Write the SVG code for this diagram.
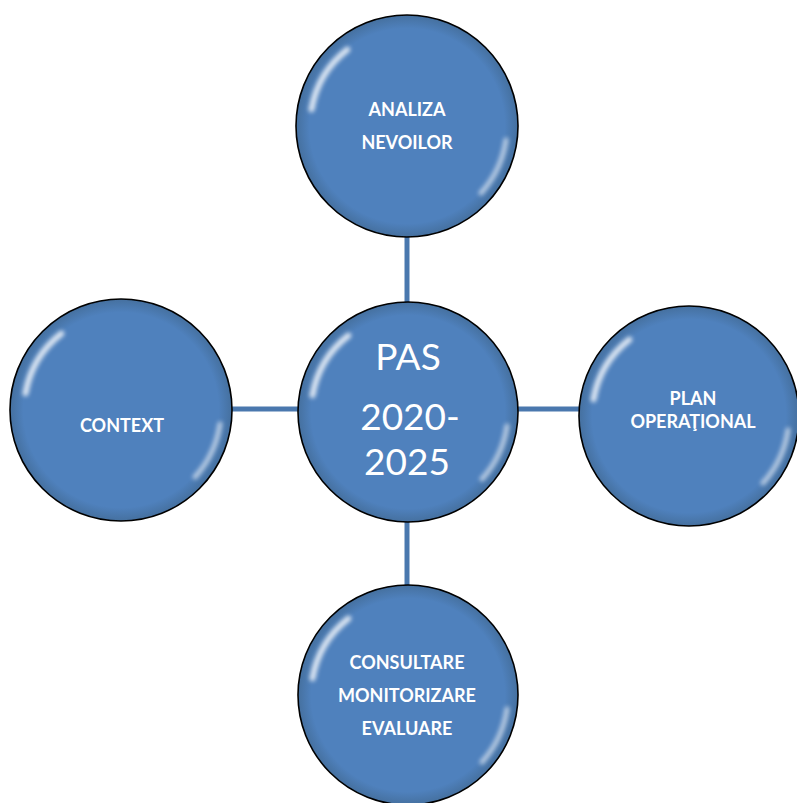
<svg xmlns="http://www.w3.org/2000/svg" width="797" height="803" viewBox="0 0 797 803">
<defs>
<style>
.c{fill:url(#rg);stroke:#000;stroke-width:1.6}
.hl{fill:none;stroke:#fff;stroke-linecap:round;filter:url(#b)}
.t{font-family:Lato,"Open Sans","Liberation Sans",sans-serif;font-weight:bold;font-size:18px;fill:#fff;text-anchor:middle}
.big{font-family:Lato,"Open Sans","Liberation Sans",sans-serif;font-size:37px;fill:#fff;text-anchor:middle}
.ln{stroke:#4a78ae;stroke-width:5;fill:none}
</style>
<radialGradient id="rg" cx="0.5" cy="0.5" r="0.5">
<stop offset="0.88" stop-color="#4f81bd"/>
<stop offset="1" stop-color="#45709f"/>
</radialGradient>
<filter id="b" x="-30%" y="-30%" width="160%" height="160%"><feGaussianBlur stdDeviation="2.2"/></filter>
<g id="gloss">
<path class="hl" d="M-95.5,-16.8 A97,97 0 0 1 -59.7,-76.4" stroke-width="6" opacity="0.8"/>
<path class="hl" d="M99,14 A100,100 0 0 1 74,67" stroke-width="5" opacity="0.6"/>
</g>
</defs>
<rect width="797" height="803" fill="#fff"/>
<g id="connectors">
<line class="ln" x1="407" y1="236" x2="407" y2="303"/>
<line class="ln" x1="407" y1="520" x2="407" y2="586"/>
<line class="ln" x1="232" y1="409" x2="298" y2="409"/>
<line class="ln" x1="518" y1="409" x2="580" y2="409"/>
</g>
<g id="analiza">
<circle class="c" cx="407" cy="126" r="111"/>
<use href="#gloss" x="407" y="126"/>
<text class="t" x="407" y="116">ANALIZA</text>
<text class="t" x="407" y="149">NEVOILOR</text>
</g>
<g id="pas">
<circle class="c" cx="408" cy="412" r="110"/>
<use href="#gloss" x="408" y="412"/>
<text class="big" x="408" y="370">PAS</text>
<text class="big" x="410" y="430">2020-</text>
<text class="big" x="407" y="475">2025</text>
</g>
<g id="plan">
<circle class="c" cx="689" cy="416" r="110"/>
<use href="#gloss" x="689" y="416"/>
<text class="t" x="693" y="405">PLAN</text>
<text class="t" x="693" y="428">OPERAŢIONAL</text>
</g>
<g id="context">
<circle class="c" cx="121" cy="410" r="111"/>
<use href="#gloss" x="121" y="410"/>
<text class="t" x="122" y="432">CONTEXT</text>
</g>
<g id="consultare">
<circle class="c" cx="408" cy="695" r="110"/>
<use href="#gloss" x="408" y="695"/>
<text class="t" x="407" y="669">CONSULTARE</text>
<text class="t" x="407" y="702">MONITORIZARE</text>
<text class="t" x="407" y="735">EVALUARE</text>
</g>
</svg>
